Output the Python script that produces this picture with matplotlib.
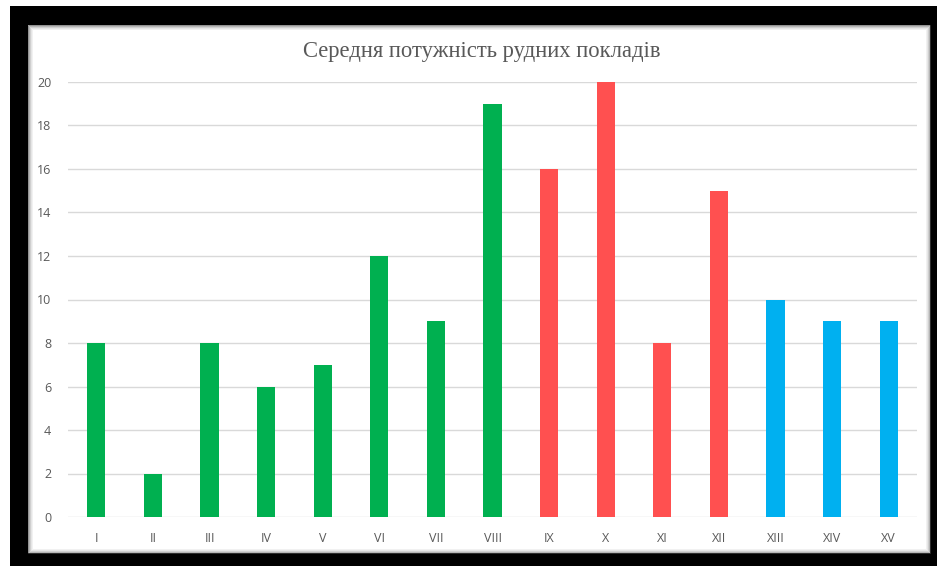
import matplotlib.pyplot as plt
from matplotlib.patches import Rectangle

categories = ["I", "II", "III", "IV", "V", "VI", "VII", "VIII",
              "IX", "X", "XI", "XII", "XIII", "XIV", "XV"]
values = [8, 2, 8, 6, 7, 12, 9, 19, 16, 20, 8, 15, 10, 9, 9]
groups = ["g"] * 8 + ["r"] * 4 + ["b"] * 3
group_colors = {"g": "#00B050", "r": "#FF5050", "b": "#00B0F0"}
yticks = [0, 2, 4, 6, 8, 10, 12, 14, 16, 18, 20]
title = "Середня потужність рудних покладів"

W, H = 947, 566
fig = plt.figure(figsize=(W / 100, H / 100), dpi=100)
fig.patch.set_facecolor("white")

def px_rect(x0, y0, x1, y1, **kw):
    # rectangle given in pixel coords measured from the top-left corner
    return Rectangle((x0 / W, 1 - y1 / H), (x1 - x0) / W, (y1 - y0) / H,
                     transform=fig.transFigure, **kw)

# black frame with white panel and a soft inner shadow
fig.patches.append(px_rect(10, 6, 937, 566, facecolor="black", edgecolor="none", zorder=0))
fig.patches.append(px_rect(28, 25, 930, 553, facecolor="white", edgecolor="none", zorder=1))
for i, a in enumerate([0.6, 0.4, 0.25, 0.14, 0.07]):
    fig.patches.append(px_rect(28 + i, 25 + i, 930 - i, 553 - i, facecolor="none",
                               edgecolor=(0.3, 0.3, 0.3, a), linewidth=0.75, zorder=2))

ax = fig.add_axes([68 / W, (H - 517) / H, (917 - 68) / W, (517 - 82) / H])
ax.set_facecolor("none")
ax.set_zorder(3)

x = range(len(categories))
ax.bar(x, values, width=0.32, color=[group_colors[g] for g in groups], zorder=3)

ax.set_xlim(-0.5, len(categories) - 0.5)
ax.set_ylim(0, 20)
ax.set_yticks(yticks)
ax.set_xticks(list(x))
ax.set_xticklabels(categories)
ax.grid(axis="y", color="#D9D9D9", linewidth=1, zorder=0)
ax.set_axisbelow(True)
for s in ax.spines.values():
    s.set_visible(False)
ax.tick_params(length=0, labelsize=9, labelcolor="#595959")
ax.tick_params(axis="y", pad=12)
ax.tick_params(axis="x", pad=11)
for lab in ax.get_xticklabels() + ax.get_yticklabels():
    lab.set_fontfamily("Open Sans")

fig.text(482 / W, 1 - 51 / H, title, ha="center", va="center",
         fontsize=16.3, color="#595959", family="Liberation Serif", zorder=4)

fig.savefig("out.png", dpi=100)
